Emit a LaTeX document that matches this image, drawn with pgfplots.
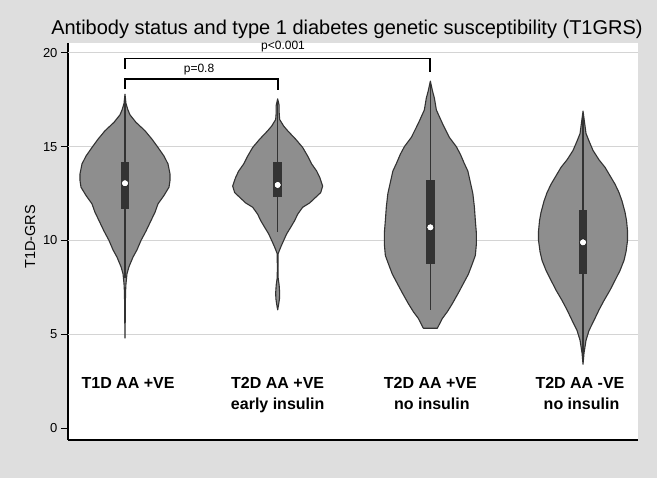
\documentclass[border=0pt]{standalone}
\usepackage{pgfplots}
\pgfplotsset{compat=1.18}
\usepackage{pgfplotstable}
\usepackage{fontspec}
\setmainfont{Liberation Sans}
\definecolor{bg}{RGB}{222,222,222}
\definecolor{vfill}{RGB}{142,142,142}
\definecolor{vline}{RGB}{50,50,50}
\definecolor{boxc}{RGB}{51,51,51}
\definecolor{gridc}{RGB}{212,212,212}

% violin outlines: w = signed half-width (px), v = T1D-GRS value
\pgfplotstableread{
w v
0 17.8
1 17.3
3 16.95
5 16.7
11 16.3
20 15.85
27 15.4
33 14.96
39 14.5
43 14.08
45 13.55
45 13.2
44 12.84
39 12.4
33 11.95
30 11.5
26 11.06
21 10.5
16 10.0
12 9.5
8 9.11
4 8.6
2 8.23
1 7.7
0.5 7.2
0.3 6.0
0 4.8
-0.3 6.0
-0.5 7.2
-1 7.7
-2 8.23
-4 8.6
-8 9.11
-12 9.5
-16 10.0
-21 10.5
-26 11.06
-30 11.5
-33 11.95
-39 12.4
-44 12.84
-45 13.2
-45 13.55
-43 14.08
-39 14.5
-33 14.96
-27 15.4
-20 15.85
-11 16.3
-5 16.7
-3 16.95
-1 17.3
}\vone
\pgfplotstableread{
w v
0 17.55
1.5 17.2
1.5 16.8
2 16.45
6 16.1
10 15.85
18 15.4
25 14.96
30 14.5
34 14.08
39 13.7
42 13.37
45 12.9
43 12.55
38 12.3
32 12.0
25 11.77
20 11.4
17 11.06
13 10.7
9 10.35
6 10.0
3 9.64
0.5 9.3
0.3 8.5
0.5 8.0
1.5 7.6
2 7.2
1.8 6.9
1 6.6
0 6.3
-1 6.6
-1.8 6.9
-2 7.2
-1.5 7.6
-0.5 8.0
-0.3 8.5
-0.5 9.3
-3 9.64
-6 10.0
-9 10.35
-13 10.7
-17 11.06
-20 11.4
-25 11.77
-32 12.0
-38 12.3
-43 12.55
-45 12.9
-42 13.37
-39 13.7
-34 14.08
-30 14.5
-25 14.96
-18 15.4
-10 15.85
-6 16.1
-2 16.45
-1.5 16.8
-1.5 17.2
}\vtwo
\pgfplotstableread{
w v
0 18.5
2 18.0
4 17.6
6 16.96
12 16.25
19 15.5
26 15.0
30 14.6
34 14.1
37.5 13.7
40 13.1
42.5 12.5
44 11.8
45 11.06
46 10.4
46 9.8
45 9.2
42 8.76
38 8.2
33 7.7
28 7.2
22 6.63
17 6.2
12 5.84
7 5.32
-7 5.32
-12 5.84
-17 6.2
-22 6.63
-28 7.2
-33 7.7
-38 8.2
-42 8.76
-45 9.2
-46 9.8
-46 10.4
-45 11.06
-44 11.8
-42.5 12.5
-40 13.1
-37.5 13.7
-34 14.1
-30 14.6
-26 15.0
-19 15.5
-12 16.25
-6 16.96
-4 17.6
-2 18.0
}\vthree
\pgfplotstableread{
w v
0 16.9
1.5 16.3
3 15.7
6 15.3
10 14.8
16 14.3
22 13.9
27 13.45
32 13.0
36 12.55
39 12.1
42 11.5
43.5 11.06
44.5 10.5
44.5 10.0
43 9.4
41 8.94
37 8.4
32 7.87
27 7.35
21 6.8
16 6.3
11 5.74
6 5.2
3 4.68
1 4.0
0 3.4
-1 4.0
-3 4.68
-6 5.2
-11 5.74
-16 6.3
-21 6.8
-27 7.35
-32 7.87
-37 8.4
-41 8.94
-43 9.4
-44.5 10.0
-44.5 10.5
-43.5 11.06
-42 11.5
-39 12.1
-36 12.55
-32 13.0
-27 13.45
-22 13.9
-16 14.3
-10 14.8
-6 15.3
-3 15.7
-1.5 16.3
}\vfour

\begin{document}
\begin{tikzpicture}
\fill[bg] (0,0) rectangle (657pt,478pt);
\begin{axis}[
  at={(68pt,38pt)}, anchor=south west, scale only axis,
  width=570pt, height=397pt,
  xmin=0.6267, xmax=4.360, ymin=-0.64, ymax=20.53,
  axis x line*=bottom, axis y line*=left,
  axis line style={black, line width=1.3pt},
  axis background/.style={fill=white},
  xtick=\empty,
  ytick={0,5,10,15,20},
  extra y ticks={5,10,15,20}, extra y tick labels={},
  extra y tick style={ymajorgrids=true, major tick length=0pt},
  grid style={gridc, line width=1pt},
  tick align=outside, major tick length=7pt,
  tick style={black, line width=0.9pt},
  yticklabel style={font=\fontsize{13}{15}\selectfont},
  /pgf/number format/assume math mode=true,
  clip=false,
]
% violins
\addplot[fill=vfill, draw=vline, line width=1.1pt, line join=round] table[x expr=1+\thisrow{w}/152.67, y=v]{\vone} -- cycle;
\addplot[fill=vfill, draw=vline, line width=1.1pt, line join=round] table[x expr=2+\thisrow{w}/152.67, y=v]{\vtwo} -- cycle;
\addplot[fill=vfill, draw=vline, line width=1.1pt, line join=round] table[x expr=3+\thisrow{w}/152.67, y=v]{\vthree} -- cycle;
\addplot[fill=vfill, draw=vline, line width=1.1pt, line join=round] table[x expr=4+\thisrow{w}/152.67, y=v]{\vfour} -- cycle;
% whiskers
\addplot[boxc, line width=1.3pt] coordinates {(1,8.0) (1,17.6)};
\addplot[boxc, line width=1.3pt] coordinates {(2,10.45) (2,17.5)};
\addplot[boxc, line width=1.3pt] coordinates {(3,6.3) (3,18.4)};
\addplot[boxc, line width=1.3pt] coordinates {(4,3.5) (4,16.8)};
% boxes
\addplot[fill=boxc, draw=none] coordinates {(0.9725,11.7) (1.0275,11.7) (1.0275,14.2) (0.9725,14.2)} -- cycle;
\addplot[fill=boxc, draw=none] coordinates {(1.9725,12.3) (2.0275,12.3) (2.0275,14.17) (1.9725,14.17)} -- cycle;
\addplot[fill=boxc, draw=none] coordinates {(2.9725,8.76) (3.0275,8.76) (3.0275,13.2) (2.9725,13.2)} -- cycle;
\addplot[fill=boxc, draw=none] coordinates {(3.9725,8.23) (4.0275,8.23) (4.0275,11.6) (3.9725,11.6)} -- cycle;
% medians
\addplot[only marks, mark=*, mark size=3.5pt, mark options={fill=white, draw=none}] coordinates {(1,13.05) (2,12.96) (3,10.7) (4,9.9)};
% brackets
\addplot[black, line width=1.8pt] coordinates {(1,19.13) (1,19.7) (3,19.7) (3,19.0)};
\addplot[black, line width=1.8pt] coordinates {(1,18.07) (1,18.63) (2,18.63) (2,18.0)};
\node[font=\fontsize{12}{14}\selectfont] at (axis cs:2.035,20.32) {p<0.001};
\node[font=\fontsize{12}{14}\selectfont] at (axis cs:1.485,19.12) {p=0.8};
% title, y label
\node[anchor=base, font=\fontsize{20}{24}\selectfont] at (axis cs:2.454,20.96) {Antibody status and type 1 diabetes genetic susceptibility (T1GRS)};
\node[rotate=90, font=\fontsize{14.5}{17}\selectfont] at (axis cs:0.378,10.2) {T1D-GRS};
% category labels
\node[anchor=base, font=\fontsize{16}{19}\selectfont\bfseries] at (axis cs:1.02,2.08) {T1D AA +VE};
\node[anchor=base, font=\fontsize{16}{19}\selectfont\bfseries] at (axis cs:2,2.08) {T2D AA +VE};
\node[anchor=base, font=\fontsize{16}{19}\selectfont\bfseries] at (axis cs:2,0.96) {early insulin};
\node[anchor=base, font=\fontsize{16}{19}\selectfont\bfseries] at (axis cs:3,2.08) {T2D AA +VE};
\node[anchor=base, font=\fontsize{16}{19}\selectfont\bfseries] at (axis cs:3.01,0.96) {no insulin};
\node[anchor=base, font=\fontsize{16}{19}\selectfont\bfseries] at (axis cs:3.98,2.08) {T2D AA -VE};
\node[anchor=base, font=\fontsize{16}{19}\selectfont\bfseries] at (axis cs:3.99,0.96) {no insulin};
\end{axis}
\end{tikzpicture}
\end{document}
